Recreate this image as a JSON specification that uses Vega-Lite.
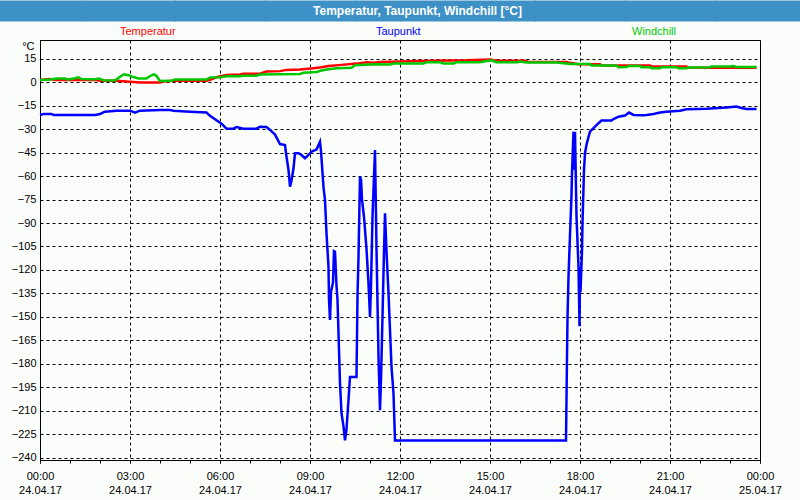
{
  "$schema": "https://vega.github.io/schema/vega-lite/v6.json",
  "autosize": {"type": "none"},
  "padding": {"left": 40, "top": 40, "right": 40, "bottom": 40},
  "background": "#fbfdfb",
  "config": {"font": "Liberation Sans"},
  "width": 720,
  "height": 420,
  "view": {"stroke": "#000000", "strokeWidth": 1, "fill": null},
  "data": {"values": [
    {"s":"Temperatur","t":"2017-04-24T00:00","v":1.5},
    {"s":"Temperatur","t":"2017-04-24T00:20","v":2.1},
    {"s":"Temperatur","t":"2017-04-24T00:32","v":1.5},
    {"s":"Temperatur","t":"2017-04-24T01:07","v":1.6},
    {"s":"Temperatur","t":"2017-04-24T01:20","v":1.5},
    {"s":"Temperatur","t":"2017-04-24T01:50","v":1.5},
    {"s":"Temperatur","t":"2017-04-24T02:00","v":1.0},
    {"s":"Temperatur","t":"2017-04-24T02:33","v":0.9},
    {"s":"Temperatur","t":"2017-04-24T02:53","v":0.4},
    {"s":"Temperatur","t":"2017-04-24T03:20","v":-0.1},
    {"s":"Temperatur","t":"2017-04-24T04:00","v":-0.1},
    {"s":"Temperatur","t":"2017-04-24T04:07","v":0.4},
    {"s":"Temperatur","t":"2017-04-24T04:27","v":0.9},
    {"s":"Temperatur","t":"2017-04-24T05:33","v":0.9},
    {"s":"Temperatur","t":"2017-04-24T05:40","v":1.5},
    {"s":"Temperatur","t":"2017-04-24T05:53","v":3.2},
    {"s":"Temperatur","t":"2017-04-24T06:03","v":4.0},
    {"s":"Temperatur","t":"2017-04-24T06:13","v":4.6},
    {"s":"Temperatur","t":"2017-04-24T06:40","v":4.9},
    {"s":"Temperatur","t":"2017-04-24T06:47","v":5.5},
    {"s":"Temperatur","t":"2017-04-24T07:20","v":5.5},
    {"s":"Temperatur","t":"2017-04-24T07:27","v":6.2},
    {"s":"Temperatur","t":"2017-04-24T07:33","v":6.8},
    {"s":"Temperatur","t":"2017-04-24T08:00","v":7.1},
    {"s":"Temperatur","t":"2017-04-24T08:13","v":7.9},
    {"s":"Temperatur","t":"2017-04-24T08:40","v":8.1},
    {"s":"Temperatur","t":"2017-04-24T09:07","v":9.0},
    {"s":"Temperatur","t":"2017-04-24T09:23","v":9.6},
    {"s":"Temperatur","t":"2017-04-24T09:37","v":10.4},
    {"s":"Temperatur","t":"2017-04-24T10:03","v":11.1},
    {"s":"Temperatur","t":"2017-04-24T10:33","v":11.9},
    {"s":"Temperatur","t":"2017-04-24T10:53","v":12.8},
    {"s":"Temperatur","t":"2017-04-24T11:07","v":12.4},
    {"s":"Temperatur","t":"2017-04-24T11:20","v":13.0},
    {"s":"Temperatur","t":"2017-04-24T12:00","v":13.2},
    {"s":"Temperatur","t":"2017-04-24T12:40","v":13.6},
    {"s":"Temperatur","t":"2017-04-24T13:07","v":13.8},
    {"s":"Temperatur","t":"2017-04-24T14:13","v":14.0},
    {"s":"Temperatur","t":"2017-04-24T15:00","v":14.5},
    {"s":"Temperatur","t":"2017-04-24T15:13","v":13.8},
    {"s":"Temperatur","t":"2017-04-24T16:00","v":13.8},
    {"s":"Temperatur","t":"2017-04-24T16:07","v":14.0},
    {"s":"Temperatur","t":"2017-04-24T16:17","v":13.0},
    {"s":"Temperatur","t":"2017-04-24T17:33","v":13.0},
    {"s":"Temperatur","t":"2017-04-24T17:40","v":12.4},
    {"s":"Temperatur","t":"2017-04-24T17:57","v":11.5},
    {"s":"Temperatur","t":"2017-04-24T18:40","v":11.5},
    {"s":"Temperatur","t":"2017-04-24T18:43","v":10.7},
    {"s":"Temperatur","t":"2017-04-24T20:20","v":10.7},
    {"s":"Temperatur","t":"2017-04-24T20:23","v":10.0},
    {"s":"Temperatur","t":"2017-04-24T21:33","v":10.0},
    {"s":"Temperatur","t":"2017-04-24T21:37","v":9.4},
    {"s":"Temperatur","t":"2017-04-24T22:20","v":9.2},
    {"s":"Temperatur","t":"2017-04-24T23:53","v":9.2},
    {"s":"Windchill","t":"2017-04-24T00:00","v":1.5},
    {"s":"Windchill","t":"2017-04-24T00:20","v":1.8},
    {"s":"Windchill","t":"2017-04-24T00:33","v":2.4},
    {"s":"Windchill","t":"2017-04-24T00:50","v":2.4},
    {"s":"Windchill","t":"2017-04-24T00:57","v":1.7},
    {"s":"Windchill","t":"2017-04-24T01:10","v":2.6},
    {"s":"Windchill","t":"2017-04-24T01:17","v":3.2},
    {"s":"Windchill","t":"2017-04-24T01:23","v":2.0},
    {"s":"Windchill","t":"2017-04-24T01:50","v":1.9},
    {"s":"Windchill","t":"2017-04-24T01:57","v":2.4},
    {"s":"Windchill","t":"2017-04-24T02:07","v":1.3},
    {"s":"Windchill","t":"2017-04-24T02:30","v":1.1},
    {"s":"Windchill","t":"2017-04-24T02:40","v":3.5},
    {"s":"Windchill","t":"2017-04-24T02:48","v":5.1},
    {"s":"Windchill","t":"2017-04-24T02:57","v":4.5},
    {"s":"Windchill","t":"2017-04-24T03:07","v":3.3},
    {"s":"Windchill","t":"2017-04-24T03:17","v":2.4},
    {"s":"Windchill","t":"2017-04-24T03:33","v":2.4},
    {"s":"Windchill","t":"2017-04-24T03:40","v":4.0},
    {"s":"Windchill","t":"2017-04-24T03:48","v":5.1},
    {"s":"Windchill","t":"2017-04-24T03:53","v":4.0},
    {"s":"Windchill","t":"2017-04-24T04:00","v":0.8},
    {"s":"Windchill","t":"2017-04-24T04:23","v":0.9},
    {"s":"Windchill","t":"2017-04-24T04:30","v":1.7},
    {"s":"Windchill","t":"2017-04-24T05:33","v":1.7},
    {"s":"Windchill","t":"2017-04-24T05:40","v":3.0},
    {"s":"Windchill","t":"2017-04-24T06:00","v":3.2},
    {"s":"Windchill","t":"2017-04-24T06:13","v":3.8},
    {"s":"Windchill","t":"2017-04-24T06:40","v":3.8},
    {"s":"Windchill","t":"2017-04-24T06:47","v":4.2},
    {"s":"Windchill","t":"2017-04-24T07:13","v":4.2},
    {"s":"Windchill","t":"2017-04-24T07:20","v":4.9},
    {"s":"Windchill","t":"2017-04-24T08:00","v":5.1},
    {"s":"Windchill","t":"2017-04-24T08:40","v":5.3},
    {"s":"Windchill","t":"2017-04-24T08:47","v":6.0},
    {"s":"Windchill","t":"2017-04-24T09:13","v":6.6},
    {"s":"Windchill","t":"2017-04-24T09:23","v":7.5},
    {"s":"Windchill","t":"2017-04-24T09:37","v":8.3},
    {"s":"Windchill","t":"2017-04-24T09:53","v":9.0},
    {"s":"Windchill","t":"2017-04-24T10:23","v":9.2},
    {"s":"Windchill","t":"2017-04-24T10:30","v":10.9},
    {"s":"Windchill","t":"2017-04-24T11:13","v":11.5},
    {"s":"Windchill","t":"2017-04-24T11:40","v":11.3},
    {"s":"Windchill","t":"2017-04-24T11:47","v":11.9},
    {"s":"Windchill","t":"2017-04-24T12:47","v":11.9},
    {"s":"Windchill","t":"2017-04-24T12:53","v":12.8},
    {"s":"Windchill","t":"2017-04-24T13:20","v":12.8},
    {"s":"Windchill","t":"2017-04-24T13:27","v":11.9},
    {"s":"Windchill","t":"2017-04-24T13:47","v":11.9},
    {"s":"Windchill","t":"2017-04-24T13:53","v":12.8},
    {"s":"Windchill","t":"2017-04-24T14:40","v":12.8},
    {"s":"Windchill","t":"2017-04-24T14:47","v":13.2},
    {"s":"Windchill","t":"2017-04-24T15:03","v":14.0},
    {"s":"Windchill","t":"2017-04-24T15:13","v":12.8},
    {"s":"Windchill","t":"2017-04-24T15:55","v":12.8},
    {"s":"Windchill","t":"2017-04-24T16:00","v":13.2},
    {"s":"Windchill","t":"2017-04-24T16:13","v":12.6},
    {"s":"Windchill","t":"2017-04-24T17:13","v":12.6},
    {"s":"Windchill","t":"2017-04-24T17:27","v":12.2},
    {"s":"Windchill","t":"2017-04-24T17:43","v":11.7},
    {"s":"Windchill","t":"2017-04-24T18:20","v":11.7},
    {"s":"Windchill","t":"2017-04-24T18:23","v":10.7},
    {"s":"Windchill","t":"2017-04-24T19:13","v":10.7},
    {"s":"Windchill","t":"2017-04-24T19:17","v":9.6},
    {"s":"Windchill","t":"2017-04-24T19:33","v":9.8},
    {"s":"Windchill","t":"2017-04-24T19:37","v":10.4},
    {"s":"Windchill","t":"2017-04-24T20:00","v":10.4},
    {"s":"Windchill","t":"2017-04-24T20:03","v":9.6},
    {"s":"Windchill","t":"2017-04-24T20:20","v":9.6},
    {"s":"Windchill","t":"2017-04-24T20:23","v":8.9},
    {"s":"Windchill","t":"2017-04-24T20:40","v":8.9},
    {"s":"Windchill","t":"2017-04-24T20:43","v":9.6},
    {"s":"Windchill","t":"2017-04-24T21:13","v":9.6},
    {"s":"Windchill","t":"2017-04-24T21:17","v":9.0},
    {"s":"Windchill","t":"2017-04-24T21:33","v":9.0},
    {"s":"Windchill","t":"2017-04-24T21:37","v":9.4},
    {"s":"Windchill","t":"2017-04-24T22:20","v":9.6},
    {"s":"Windchill","t":"2017-04-24T22:23","v":10.0},
    {"s":"Windchill","t":"2017-04-24T23:00","v":10.0},
    {"s":"Windchill","t":"2017-04-24T23:07","v":10.4},
    {"s":"Windchill","t":"2017-04-24T23:13","v":9.8},
    {"s":"Windchill","t":"2017-04-24T23:53","v":9.8},
    {"s":"Taupunkt","t":"2017-04-24T00:00","v":-20.9},
    {"s":"Taupunkt","t":"2017-04-24T00:07","v":-20.3},
    {"s":"Taupunkt","t":"2017-04-24T00:23","v":-20.3},
    {"s":"Taupunkt","t":"2017-04-24T00:27","v":-20.9},
    {"s":"Taupunkt","t":"2017-04-24T01:50","v":-20.9},
    {"s":"Taupunkt","t":"2017-04-24T02:00","v":-20.3},
    {"s":"Taupunkt","t":"2017-04-24T02:10","v":-18.8},
    {"s":"Taupunkt","t":"2017-04-24T02:33","v":-18.2},
    {"s":"Taupunkt","t":"2017-04-24T03:00","v":-18.2},
    {"s":"Taupunkt","t":"2017-04-24T03:10","v":-19.4},
    {"s":"Taupunkt","t":"2017-04-24T03:20","v":-18.2},
    {"s":"Taupunkt","t":"2017-04-24T04:00","v":-17.7},
    {"s":"Taupunkt","t":"2017-04-24T04:20","v":-17.7},
    {"s":"Taupunkt","t":"2017-04-24T04:27","v":-18.2},
    {"s":"Taupunkt","t":"2017-04-24T05:00","v":-18.8},
    {"s":"Taupunkt","t":"2017-04-24T05:33","v":-19.4},
    {"s":"Taupunkt","t":"2017-04-24T05:40","v":-21.5},
    {"s":"Taupunkt","t":"2017-04-24T06:03","v":-26.5},
    {"s":"Taupunkt","t":"2017-04-24T06:13","v":-29.7},
    {"s":"Taupunkt","t":"2017-04-24T06:27","v":-29.7},
    {"s":"Taupunkt","t":"2017-04-24T06:33","v":-28.6},
    {"s":"Taupunkt","t":"2017-04-24T06:47","v":-29.7},
    {"s":"Taupunkt","t":"2017-04-24T07:13","v":-29.7},
    {"s":"Taupunkt","t":"2017-04-24T07:20","v":-28.4},
    {"s":"Taupunkt","t":"2017-04-24T07:33","v":-28.6},
    {"s":"Taupunkt","t":"2017-04-24T07:40","v":-30.5},
    {"s":"Taupunkt","t":"2017-04-24T07:50","v":-33.5},
    {"s":"Taupunkt","t":"2017-04-24T08:00","v":-39.5},
    {"s":"Taupunkt","t":"2017-04-24T08:10","v":-40.1},
    {"s":"Taupunkt","t":"2017-04-24T08:12","v":-45.4},
    {"s":"Taupunkt","t":"2017-04-24T08:17","v":-56},
    {"s":"Taupunkt","t":"2017-04-24T08:20","v":-66.8},
    {"s":"Taupunkt","t":"2017-04-24T08:23","v":-63},
    {"s":"Taupunkt","t":"2017-04-24T08:27","v":-55},
    {"s":"Taupunkt","t":"2017-04-24T08:30","v":-45.4},
    {"s":"Taupunkt","t":"2017-04-24T08:37","v":-45.4},
    {"s":"Taupunkt","t":"2017-04-24T08:43","v":-46.5},
    {"s":"Taupunkt","t":"2017-04-24T08:50","v":-48.6},
    {"s":"Taupunkt","t":"2017-04-24T08:57","v":-46.5},
    {"s":"Taupunkt","t":"2017-04-24T09:03","v":-44.4},
    {"s":"Taupunkt","t":"2017-04-24T09:13","v":-43},
    {"s":"Taupunkt","t":"2017-04-24T09:20","v":-38},
    {"s":"Taupunkt","t":"2017-04-24T09:22","v":-44},
    {"s":"Taupunkt","t":"2017-04-24T09:27","v":-67},
    {"s":"Taupunkt","t":"2017-04-24T09:30","v":-75.3},
    {"s":"Taupunkt","t":"2017-04-24T09:33","v":-96.6},
    {"s":"Taupunkt","t":"2017-04-24T09:37","v":-118},
    {"s":"Taupunkt","t":"2017-04-24T09:38","v":-139},
    {"s":"Taupunkt","t":"2017-04-24T09:40","v":-152},
    {"s":"Taupunkt","t":"2017-04-24T09:42","v":-134},
    {"s":"Taupunkt","t":"2017-04-24T09:46","v":-128},
    {"s":"Taupunkt","t":"2017-04-24T09:48","v":-108},
    {"s":"Taupunkt","t":"2017-04-24T09:50","v":-108.4},
    {"s":"Taupunkt","t":"2017-04-24T09:53","v":-130},
    {"s":"Taupunkt","t":"2017-04-24T09:55","v":-139},
    {"s":"Taupunkt","t":"2017-04-24T09:58","v":-171},
    {"s":"Taupunkt","t":"2017-04-24T10:00","v":-192.5},
    {"s":"Taupunkt","t":"2017-04-24T10:03","v":-211.6},
    {"s":"Taupunkt","t":"2017-04-24T10:07","v":-220},
    {"s":"Taupunkt","t":"2017-04-24T10:10","v":-229},
    {"s":"Taupunkt","t":"2017-04-24T10:13","v":-222},
    {"s":"Taupunkt","t":"2017-04-24T10:17","v":-203},
    {"s":"Taupunkt","t":"2017-04-24T10:20","v":-188.4},
    {"s":"Taupunkt","t":"2017-04-24T10:33","v":-188.4},
    {"s":"Taupunkt","t":"2017-04-24T10:35","v":-137},
    {"s":"Taupunkt","t":"2017-04-24T10:37","v":-111.6},
    {"s":"Taupunkt","t":"2017-04-24T10:40","v":-60.4},
    {"s":"Taupunkt","t":"2017-04-24T10:42","v":-62},
    {"s":"Taupunkt","t":"2017-04-24T10:44","v":-75},
    {"s":"Taupunkt","t":"2017-04-24T10:48","v":-86},
    {"s":"Taupunkt","t":"2017-04-24T10:53","v":-106.6},
    {"s":"Taupunkt","t":"2017-04-24T10:57","v":-128.6},
    {"s":"Taupunkt","t":"2017-04-24T11:00","v":-150},
    {"s":"Taupunkt","t":"2017-04-24T11:02","v":-130},
    {"s":"Taupunkt","t":"2017-04-24T11:05","v":-86},
    {"s":"Taupunkt","t":"2017-04-24T11:08","v":-60},
    {"s":"Taupunkt","t":"2017-04-24T11:10","v":-43.3},
    {"s":"Taupunkt","t":"2017-04-24T11:13","v":-106.6},
    {"s":"Taupunkt","t":"2017-04-24T11:17","v":-175.6},
    {"s":"Taupunkt","t":"2017-04-24T11:20","v":-209.7},
    {"s":"Taupunkt","t":"2017-04-24T11:22","v":-190},
    {"s":"Taupunkt","t":"2017-04-24T11:25","v":-150},
    {"s":"Taupunkt","t":"2017-04-24T11:28","v":-108},
    {"s":"Taupunkt","t":"2017-04-24T11:30","v":-83.8},
    {"s":"Taupunkt","t":"2017-04-24T11:33","v":-108},
    {"s":"Taupunkt","t":"2017-04-24T11:37","v":-135},
    {"s":"Taupunkt","t":"2017-04-24T11:43","v":-182},
    {"s":"Taupunkt","t":"2017-04-24T11:47","v":-199},
    {"s":"Taupunkt","t":"2017-04-24T11:50","v":-229},
    {"s":"Taupunkt","t":"2017-04-24T17:32","v":-229},
    {"s":"Taupunkt","t":"2017-04-24T17:34","v":-176},
    {"s":"Taupunkt","t":"2017-04-24T17:35","v":-150.8},
    {"s":"Taupunkt","t":"2017-04-24T17:37","v":-124.4},
    {"s":"Taupunkt","t":"2017-04-24T17:40","v":-97.7},
    {"s":"Taupunkt","t":"2017-04-24T17:43","v":-72},
    {"s":"Taupunkt","t":"2017-04-24T17:44","v":-58},
    {"s":"Taupunkt","t":"2017-04-24T17:47","v":-31.6},
    {"s":"Taupunkt","t":"2017-04-24T17:49","v":-56},
    {"s":"Taupunkt","t":"2017-04-24T17:50","v":-31.6},
    {"s":"Taupunkt","t":"2017-04-24T17:53","v":-86},
    {"s":"Taupunkt","t":"2017-04-24T17:57","v":-118},
    {"s":"Taupunkt","t":"2017-04-24T17:59","v":-156},
    {"s":"Taupunkt","t":"2017-04-24T18:00","v":-118},
    {"s":"Taupunkt","t":"2017-04-24T18:01","v":-134},
    {"s":"Taupunkt","t":"2017-04-24T18:04","v":-108},
    {"s":"Taupunkt","t":"2017-04-24T18:05","v":-90},
    {"s":"Taupunkt","t":"2017-04-24T18:08","v":-56},
    {"s":"Taupunkt","t":"2017-04-24T18:10","v":-45.4},
    {"s":"Taupunkt","t":"2017-04-24T18:13","v":-40},
    {"s":"Taupunkt","t":"2017-04-24T18:17","v":-35},
    {"s":"Taupunkt","t":"2017-04-24T18:20","v":-31.6},
    {"s":"Taupunkt","t":"2017-04-24T18:27","v":-29.4},
    {"s":"Taupunkt","t":"2017-04-24T18:37","v":-26.2},
    {"s":"Taupunkt","t":"2017-04-24T18:43","v":-24.5},
    {"s":"Taupunkt","t":"2017-04-24T19:03","v":-24.5},
    {"s":"Taupunkt","t":"2017-04-24T19:07","v":-23.5},
    {"s":"Taupunkt","t":"2017-04-24T19:17","v":-22},
    {"s":"Taupunkt","t":"2017-04-24T19:30","v":-21.3},
    {"s":"Taupunkt","t":"2017-04-24T19:38","v":-19.4},
    {"s":"Taupunkt","t":"2017-04-24T19:47","v":-20.9},
    {"s":"Taupunkt","t":"2017-04-24T20:07","v":-21.1},
    {"s":"Taupunkt","t":"2017-04-24T20:13","v":-20.9},
    {"s":"Taupunkt","t":"2017-04-24T20:27","v":-20.3},
    {"s":"Taupunkt","t":"2017-04-24T20:40","v":-19.4},
    {"s":"Taupunkt","t":"2017-04-24T20:53","v":-18.8},
    {"s":"Taupunkt","t":"2017-04-24T21:20","v":-18.2},
    {"s":"Taupunkt","t":"2017-04-24T21:33","v":-17.3},
    {"s":"Taupunkt","t":"2017-04-24T22:13","v":-16.9},
    {"s":"Taupunkt","t":"2017-04-24T22:53","v":-16.2},
    {"s":"Taupunkt","t":"2017-04-24T23:13","v":-15.5},
    {"s":"Taupunkt","t":"2017-04-24T23:23","v":-16.5},
    {"s":"Taupunkt","t":"2017-04-24T23:33","v":-17.1},
    {"s":"Taupunkt","t":"2017-04-24T23:53","v":-17.1}
  ]},
  "layer": [
    {
      "mark": {"type": "line", "strokeWidth": 2.5},
      "encoding": {
        "x": {
          "field": "t",
          "type": "temporal",
          "scale": {"domain": [{"year": 2017, "month": 4, "date": 24, "hours": 0}, {"year": 2017, "month": 4, "date": 25, "hours": 0}], "nice": false},
          "axis": {
            "orient": "bottom",
            "title": null,
            "values": [
              {"year": 2017, "month": 4, "date": 24, "hours": 0},
              {"year": 2017, "month": 4, "date": 24, "hours": 3},
              {"year": 2017, "month": 4, "date": 24, "hours": 6},
              {"year": 2017, "month": 4, "date": 24, "hours": 9},
              {"year": 2017, "month": 4, "date": 24, "hours": 12},
              {"year": 2017, "month": 4, "date": 24, "hours": 15},
              {"year": 2017, "month": 4, "date": 24, "hours": 18},
              {"year": 2017, "month": 4, "date": 24, "hours": 21},
              {"year": 2017, "month": 4, "date": 25, "hours": 0}
            ],
            "labelExpr": "[timeFormat(datum.value, '%H:%M'), timeFormat(datum.value, '%d.%m.%y')]",
            "labelOverlap": false,
            "labelFlush": false,
            "labelFontSize": 11,
            "labelColor": "#000000",
            "labelLineHeight": 14,
            "labelBaseline": "top",
            "labelPadding": 7,
            "tickSize": 3,
            "tickColor": "#000000",
            "domainColor": "#000000",
            "grid": true,
            "gridColor": "#000000",
            "gridDash": [3, 3]
          }
        },
        "y": {
          "field": "v",
          "type": "quantitative",
          "scale": {"domain": [-241.5, 27], "nice": false, "zero": false},
          "axis": {
            "title": "°C",
            "titleAngle": 0,
            "titleX": -6,
            "titleY": 6,
            "titleAlign": "right",
            "titleBaseline": "middle",
            "titleFontSize": 11,
            "titleFontWeight": "normal",
            "titleColor": "#000000",
            "values": [-240, -225, -210, -195, -180, -165, -150, -135, -120, -105, -90, -75, -60, -45, -30, -15, 0, 15],
            "ticks": false,
            "labelPadding": 4,
            "labelFontSize": 11,
            "labelColor": "#000000",
            "domainColor": "#000000",
            "grid": true,
            "gridColor": "#000000",
            "gridDash": [3, 3]
          }
        },
        "color": {
          "field": "s",
          "type": "nominal",
          "scale": {"domain": ["Temperatur", "Taupunkt", "Windchill"], "range": ["#ff0000", "#0000ff", "#00c800"]},
          "legend": {
            "orient": "none",
            "legendX": 69,
            "legendY": -14,
            "direction": "horizontal",
            "columns": 3,
            "gridAlign": "all",
            "columnPadding": 189,
            "title": null,
            "symbolSize": 0,
            "symbolOpacity": 0,
            "labelOffset": 0,
            "labelFontSize": 11,
            "labelBaseline": "middle",
            "padding": 0,
            "labelColor": {"expr": "datum.value === 'Temperatur' ? '#ff0000' : datum.value === 'Taupunkt' ? '#0000ff' : '#00c800'"}
          }
        }
      }
    },
    {
      "mark": {"type": "point", "opacity": 0},
      "encoding": {
        "x": {
          "field": "t",
          "type": "temporal",
          "scale": {"domain": [{"year": 2017, "month": 4, "date": 24, "hours": 0}, {"year": 2017, "month": 4, "date": 25, "hours": 0}], "nice": false},
          "axis": {
            "orient": "bottom",
            "title": null,
            "values": [
              {"year": 2017, "month": 4, "date": 24, "hours": 0},
              {"year": 2017, "month": 4, "date": 24, "hours": 1},
              {"year": 2017, "month": 4, "date": 24, "hours": 2},
              {"year": 2017, "month": 4, "date": 24, "hours": 3},
              {"year": 2017, "month": 4, "date": 24, "hours": 4},
              {"year": 2017, "month": 4, "date": 24, "hours": 5},
              {"year": 2017, "month": 4, "date": 24, "hours": 6},
              {"year": 2017, "month": 4, "date": 24, "hours": 7},
              {"year": 2017, "month": 4, "date": 24, "hours": 8},
              {"year": 2017, "month": 4, "date": 24, "hours": 9},
              {"year": 2017, "month": 4, "date": 24, "hours": 10},
              {"year": 2017, "month": 4, "date": 24, "hours": 11},
              {"year": 2017, "month": 4, "date": 24, "hours": 12},
              {"year": 2017, "month": 4, "date": 24, "hours": 13},
              {"year": 2017, "month": 4, "date": 24, "hours": 14},
              {"year": 2017, "month": 4, "date": 24, "hours": 15},
              {"year": 2017, "month": 4, "date": 24, "hours": 16},
              {"year": 2017, "month": 4, "date": 24, "hours": 17},
              {"year": 2017, "month": 4, "date": 24, "hours": 18},
              {"year": 2017, "month": 4, "date": 24, "hours": 19},
              {"year": 2017, "month": 4, "date": 24, "hours": 20},
              {"year": 2017, "month": 4, "date": 24, "hours": 21},
              {"year": 2017, "month": 4, "date": 24, "hours": 22},
              {"year": 2017, "month": 4, "date": 24, "hours": 23},
              {"year": 2017, "month": 4, "date": 25, "hours": 0}
            ],
            "labels": false,
            "domain": false,
            "grid": false,
            "ticks": true,
            "tickSize": 3,
            "tickColor": "#000000"
          }
        }
      }
    },
    {
      "mark": {"type": "point", "opacity": 0},
      "encoding": {
        "x": {
          "field": "t",
          "type": "temporal",
          "scale": {"domain": [{"year": 2017, "month": 4, "date": 24, "hours": 0}, {"year": 2017, "month": 4, "date": 25, "hours": 0}], "nice": false},
          "axis": {
            "orient": "top",
            "title": "Temperatur, Taupunkt, Windchill [°C]",
            "titleX": 377,
            "titleY": -10.5,
            "titleAlign": "center",
            "titleBaseline": "middle",
            "titleAngle": 0,
            "titleFont": "Liberation Sans",
            "titleFontWeight": "bold",
            "titleFontSize": 12,
            "titleColor": "#ffffff",
            "offset": 19,
            "values": [
              {"year": 2017, "month": 4, "date": 24, "hours": 0},
              {"year": 2017, "month": 4, "date": 24, "hours": 3},
              {"year": 2017, "month": 4, "date": 24, "hours": 6},
              {"year": 2017, "month": 4, "date": 24, "hours": 9},
              {"year": 2017, "month": 4, "date": 24, "hours": 12},
              {"year": 2017, "month": 4, "date": 24, "hours": 15},
              {"year": 2017, "month": 4, "date": 24, "hours": 18},
              {"year": 2017, "month": 4, "date": 24, "hours": 21},
              {"year": 2017, "month": 4, "date": 25, "hours": 0}
            ],
            "labels": false,
            "domain": false,
            "grid": false,
            "ticks": true,
            "tickSize": 21,
            "tickWidth": 91,
            "tickColor": "#3d91c6"
          }
        }
      }
    }
  ],
  "resolve": {"axis": {"x": "independent"}}
}
